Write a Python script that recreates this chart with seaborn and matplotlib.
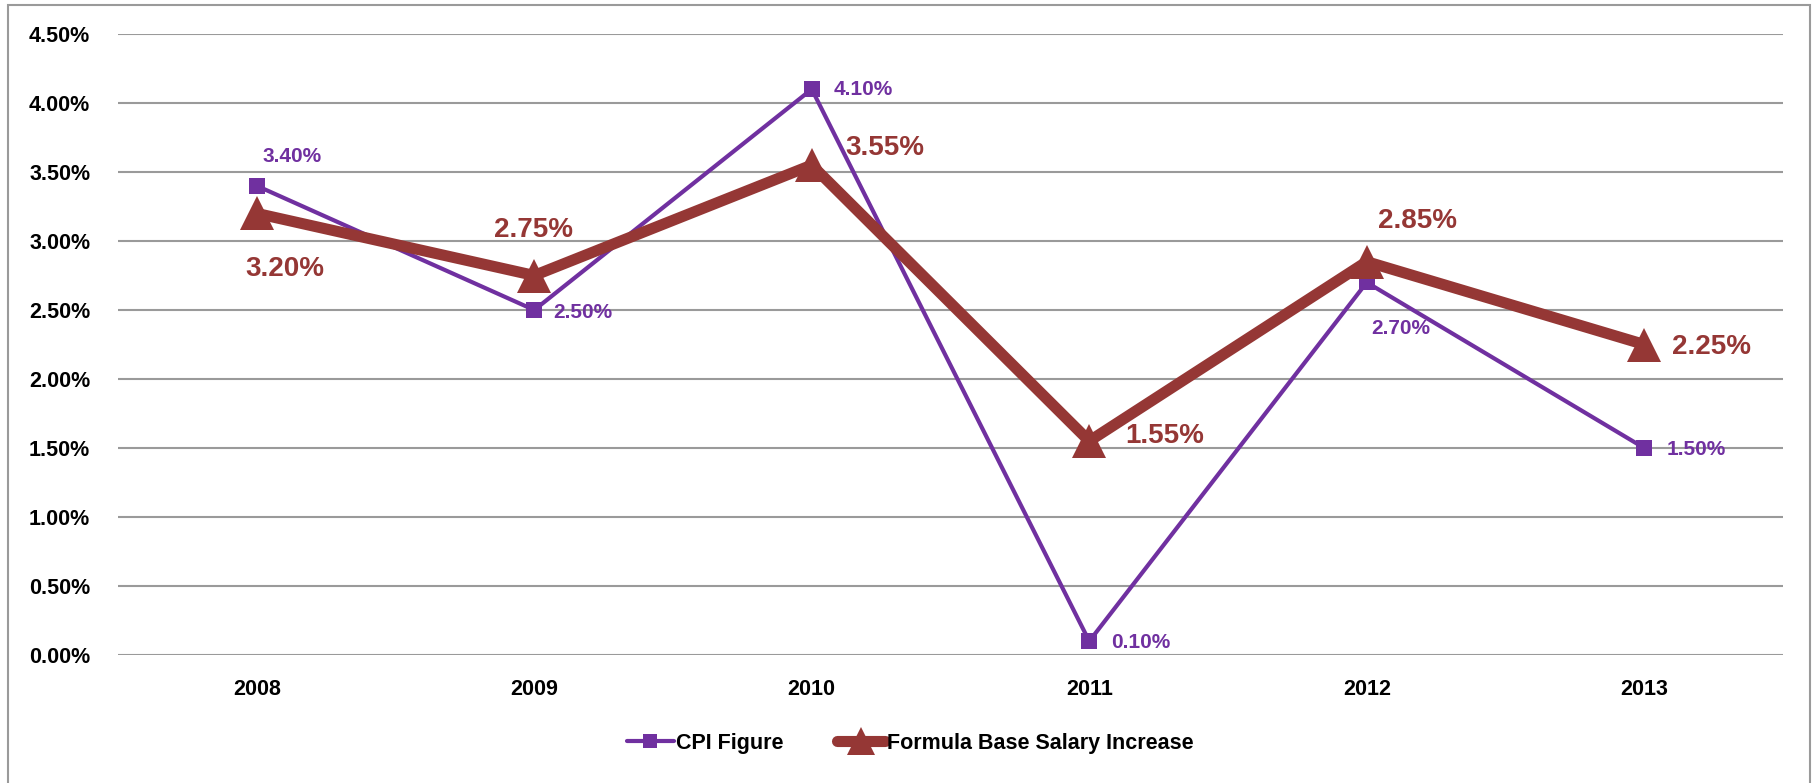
import pandas as pd
import seaborn as sns
import matplotlib.pyplot as plt
from matplotlib.patches import Rectangle
from matplotlib.ticker import FuncFormatter

years = ['2008', '2009', '2010', '2011', '2012', '2013']
cpi = [3.40, 2.50, 4.10, 0.10, 2.70, 1.50]
formula = [3.20, 2.75, 3.55, 1.55, 2.85, 2.25]
series_names = ['CPI Figure', 'Formula Base Salary Increase']

purple = '#7030A0'
red = '#953735'

sns.set_style('white')
plt.rcParams['font.family'] = ['Liberation Sans', 'DejaVu Sans']
plt.rcParams['font.weight'] = 'bold'
plt.rcParams['text.color'] = 'black'
plt.rcParams['xtick.color'] = 'black'
plt.rcParams['ytick.color'] = 'black'

df = pd.DataFrame({'year': years * 2,
                   'value': cpi + formula,
                   'series': [series_names[0]] * 6 + [series_names[1]] * 6})

fig = plt.figure(figsize=(18.13, 7.83), dpi=100)
ax = fig.add_axes([118 / 1813, 1 - 655 / 783, 1665 / 1813, 621 / 783])

d1 = df[df.series == series_names[0]]
d2 = df[df.series == series_names[1]]
sns.lineplot(data=d1, x='year', y='value', ax=ax, color=purple, lw=3,
             marker='s', markersize=12, markeredgewidth=0, label=series_names[0], zorder=3)
sns.lineplot(data=d2, x='year', y='value', ax=ax, color=red, lw=8,
             marker='^', markersize=24, markeredgewidth=0, label=series_names[1], zorder=4)

ax.set_xlim(-0.5, 5.5)
ax.set_ylim(0, 4.5)
ax.set_yticks([i * 0.5 for i in range(10)])
ax.yaxis.set_major_formatter(FuncFormatter(lambda v, p: f'{v:.2f}%'))
ax.grid(axis='y', color='#9a9a9a', lw=1.5)
ax.grid(axis='x', visible=False)
for s in ax.spines.values():
    s.set_visible(False)
ax.tick_params(axis='y', length=0, pad=20, labelsize=15.5, labelcolor='black')
ax.tick_params(axis='x', length=0, pad=17, labelsize=15.5, labelcolor='black')
for t in ax.get_xticklabels() + ax.get_yticklabels():
    t.set_fontweight('bold')
ax.set_xlabel('')
ax.set_ylabel('')

# data labels (offsets in points)
cpi_off = [(4, 21), (14, -2), (16, 0), (16, -1), (3, -33), (16, -1)]
for i, (v, o) in enumerate(zip(cpi, cpi_off)):
    ax.annotate(f'{v:.2f}%', (i, v), xytext=o, textcoords='offset points',
                color=purple, fontsize=15, fontweight='bold', va='center', ha='left')
red_off = [(-8, -40), (-29, 33), (24, 12), (26, 4), (8, 29), (20, -2)]
for i, (v, o) in enumerate(zip(formula, red_off)):
    ax.annotate(f'{v:.2f}%', (i, v), xytext=o, textcoords='offset points',
                color=red, fontsize=20, fontweight='bold', va='center', ha='left')

leg = ax.legend(loc='center', bbox_to_anchor=(910 / 1813, 1 - 743 / 783),
                bbox_transform=fig.transFigure, ncol=2, frameon=False,
                fontsize=15.5, handlelength=2.2, columnspacing=2.5, handletextpad=0.1,
                markerscale=0.85)
for t in leg.get_texts():
    t.set_fontweight('bold')
    t.set_color('black')

fig.patches.append(Rectangle((8 / 1813, -0.01), 1802 / 1813, 1.01 - 5 / 783,
                             transform=fig.transFigure, fill=False,
                             edgecolor='#9a9a9a', lw=1.5))

fig.savefig('out.png', dpi=100)
